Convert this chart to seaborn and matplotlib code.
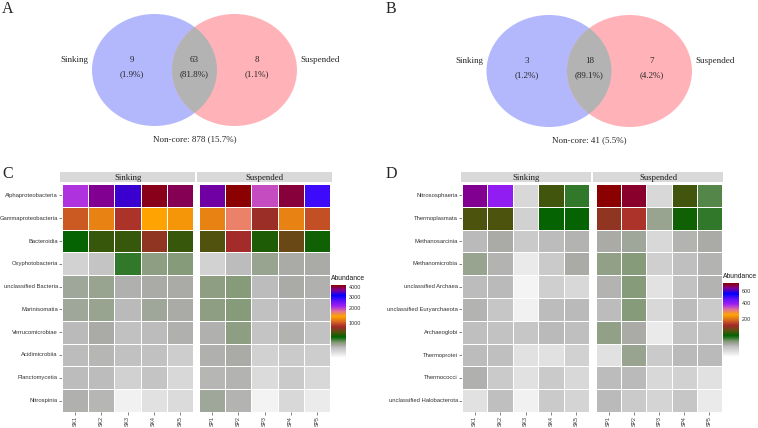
import matplotlib
matplotlib.use('Agg')
import matplotlib.pyplot as plt
import seaborn as sns
import numpy as np
import pandas as pd
from matplotlib.colors import LinearSegmentedColormap, PowerNorm
from matplotlib.patches import Ellipse

sns.set_style('white')
plt.rcParams['font.family'] = ['Liberation Sans', 'DejaVu Sans']
SERIF = ['Liberation Serif', 'DejaVu Serif']

W, H = 758, 428

# ---------------- data ----------------
groups = ['Sinking', 'Suspended']
sk_samples = ['SK1', 'SK2', 'SK3', 'SK4', 'SK5']
sp_samples = ['SP1', 'SP2', 'SP3', 'SP4', 'SP5']

# Venn: sinking only, shared, suspended only
bac_venn_counts = [9, 63, 8]
bac_venn_pct = [1.9, 81.8, 1.1]
bac_noncore = 878
bac_noncore_pct = 15.7

arc_venn_counts = [3, 18, 7]
arc_venn_pct = [1.2, 89.1, 4.2]
arc_noncore = 41
arc_noncore_pct = 5.5

bac_taxa = ['Alphaproteobacteria', 'Gammaproteobacteria', 'Bacteroidia', 'Oxyphotobacteria',
            'unclassified Bacteria', 'Marinisomatia', 'Verrucomicrobiae', 'Acidimicrobiia',
            'Planctomycetia', 'Nitrospinia']
bac_sinking = [
    [2070, 3700, 3390, 4150, 3945],
    [990, 1200, 830, 1390, 1300],
    [360, 470, 470, 720, 470],
    [43, 72, 290, 171, 189],
    [139, 155, 110, 124, 124],
    [139, 155, 96, 139, 124],
    [96, 124, 84, 92, 110],
    [94, 100, 84, 84, 52],
    [94, 94, 46, 72, 32],
    [110, 100, 5, 20, 28],
]
bac_suspended = [
    [3620, 4280, 1950, 4030, 2810],
    [1200, 1650, 750, 1200, 950],
    [520, 790, 410, 590, 385],
    [43, 90, 155, 124, 124],
    [171, 189, 94, 124, 110],
    [171, 189, 84, 96, 96],
    [110, 171, 72, 105, 80],
    [110, 124, 46, 62, 52],
    [100, 105, 28, 62, 32],
    [139, 105, 4, 32, 8],
]
bac_ticks = [1000, 2000, 3000, 4000]

arc_taxa = ['Nitrososphaeria', 'Thermoplasmata', 'Methanosarcinia', 'Methanomicrobia',
            'unclassified Archaea', 'unclassified Euryarchaeota', 'Archaeoglobi',
            'Thermoprotei', 'Thermococci', 'unclassified Halobacterota']
arc_sinking = [
    [655, 403, 6, 87, 51],
    [90, 90, 8, 64, 64],
    [17, 22, 11, 16.6, 19],
    [27, 19, 1.9, 11, 22],
    [16, 17.5, 0.5, 9, 5.6],
    [19, 12.5, 0.8, 16, 17.5],
    [15, 14, 12.5, 17, 15],
    [16, 15, 3.5, 3.5, 8],
    [20, 11, 3.5, 11, 5.6],
    [3.5, 15, 0.8, 11, 7],
]
arc_suspended = [
    [757, 727, 6, 87, 44],
    [127, 147, 27, 68, 51],
    [22, 24.5, 5.6, 19, 22],
    [29, 33, 9, 15, 19],
    [19, 33, 3, 14, 19],
    [16, 33, 5.6, 16, 11],
    [29, 22, 1.9, 14, 14],
    [3.5, 27, 11, 17, 17.5],
    [16, 17, 5.6, 8, 3.5],
    [17.5, 11, 7, 12.5, 1.9],
]
arc_ticks = [200, 400, 600]

# ---------------- styling ----------------
abund_cmap = LinearSegmentedColormap.from_list('abund', [
    (0.0, '#ffffff'), (0.143, '#bebebe'), (0.17, '#a9aaa6'), (0.215, '#7f9870'),
    (0.286, '#006400'), (0.357, '#5a5010'), (0.429, '#a52a2a'), (0.50, '#d86a20'),
    (0.571, '#ffa500'), (0.643, '#e0709a'), (0.714, '#a020f0'), (0.786, '#6010f8'),
    (0.857, '#0000ff'), (0.93, '#800098'), (1.0, '#8b0000')])

fig = plt.figure(figsize=(W / 100, H / 100), dpi=100)


def px_axes(x0, y0, x1, y1, **kw):
    return fig.add_axes([x0 / W, 1 - y1 / H, (x1 - x0) / W, (y1 - y0) / H], **kw)


ov = fig.add_axes([0, 0, 1, 1], zorder=-1)
ov.set_xlim(0, W)
ov.set_ylim(H, 0)
ov.axis('off')


def draw_venn(cx_l, cx_r, cy, counts, pcts, noncore, noncore_pct):
    w, h = 125, 112
    left = Ellipse((cx_l, cy), w, h, facecolor='#b3b8fd', edgecolor='none')
    right = Ellipse((cx_r, cy), w, h, facecolor='#ffb3b9', edgecolor='none')
    inter = Ellipse((cx_l, cy), w, h, facecolor='#b3b3b3', edgecolor='none')
    for p in (left, right, inter):
        ov.add_patch(p)
    inter.set_clip_path(right)
    mid = (cx_l + cx_r) / 2
    xs = [mid - w / 2, mid, mid + w / 2]
    for x, c, p in zip(xs, counts, pcts):
        ov.text(x, cy - 10, str(c), ha='center', va='center', fontsize=6.5, family=SERIF)
        ov.text(x, cy + 4, f'({p}%)', ha='center', va='center', fontsize=6.5, family=SERIF)
    ov.text(cx_l - w / 2 - 3.5, cy - 10, groups[0], ha='right', va='center', fontsize=6.5, family=SERIF)
    ov.text(cx_r + w / 2 + 3, cy - 10, groups[1], ha='left', va='center', fontsize=6.5, family=SERIF)
    ov.text(mid, cy + 69, f'Non-core: {noncore} ({noncore_pct}%)', ha='center', va='center',
            fontsize=6.5, family=SERIF)


draw_venn(154.5, 234.5, 70, bac_venn_counts, bac_venn_pct, bac_noncore, bac_noncore_pct)
draw_venn(549, 629.5, 71, arc_venn_counts, arc_venn_pct, arc_noncore, arc_noncore_pct)

for letter, x, y in [('A', 2, 9), ('B', 386, 9), ('C', 2, 174), ('D', 386, 174)]:
    ov.text(x, y, letter, ha='left', va='center', fontsize=11.5, family=SERIF)


def draw_heatmap(taxa, sink, susp, boxes, strips, cbar_box, ticks):
    vmax = max(np.max(sink), np.max(susp))
    norm = PowerNorm(0.5, vmin=0, vmax=vmax)
    cax = px_axes(*cbar_box)
    for i, (vals, samples) in enumerate([(sink, sk_samples), (susp, sp_samples)]):
        df = pd.DataFrame(vals, index=taxa, columns=samples)
        ax = px_axes(*boxes[i])
        sns.heatmap(df, ax=ax, cmap=abund_cmap, norm=norm, linewidths=0.45, linecolor='white',
                    cbar=(i == 0), cbar_ax=cax if i == 0 else None,
                    yticklabels=(i == 0), xticklabels=True)
        ax.tick_params(axis='both', length=2, width=0.5, color='#4d4d4d', pad=1,
                       labelcolor='#333333')
        ax.tick_params(axis='y', labelsize=4.2, left=(i == 0))
        ax.tick_params(axis='x', labelsize=3.8, bottom=True, labelrotation=90)
        ax.set_xlabel('')
        ax.set_ylabel('')
        sax = px_axes(*strips[i])
        sax.set_facecolor('#d9d9d9')
        sax.set_xticks([])
        sax.set_yticks([])
        for s in sax.spines.values():
            s.set_visible(False)
        sax.text(0.5, 0.45, groups[i], transform=sax.transAxes, ha='center', va='center',
                 fontsize=6.3, family=SERIF, color='#1a1a1a')
    cax.set_yticks(ticks)
    cax.tick_params(axis='y', length=3, width=0.6, color='white', direction='in',
                    left=True, right=True, labelsize=3.9, pad=2, labelcolor='#333333')
    fig.text(cbar_box[0] / W, 1 - (cbar_box[1] - 3) / H, 'Abundance', ha='left', va='bottom',
             fontsize=4.9, color='#1a1a1a')


draw_heatmap(bac_taxa, bac_sinking, bac_suspended,
             boxes=[(62, 184, 193, 412), (199, 184, 330, 412)],
             strips=[(60, 172, 195, 182), (197, 172, 332, 182)],
             cbar_box=(331, 285, 346, 358), ticks=bac_ticks)
draw_heatmap(arc_taxa, arc_sinking, arc_suspended,
             boxes=[(462, 184, 589, 412), (596, 184, 722, 412)],
             strips=[(461, 172, 591, 182), (593, 172, 723, 182)],
             cbar_box=(723, 283, 739, 357), ticks=arc_ticks)

fig.savefig('out.png', dpi=100)
